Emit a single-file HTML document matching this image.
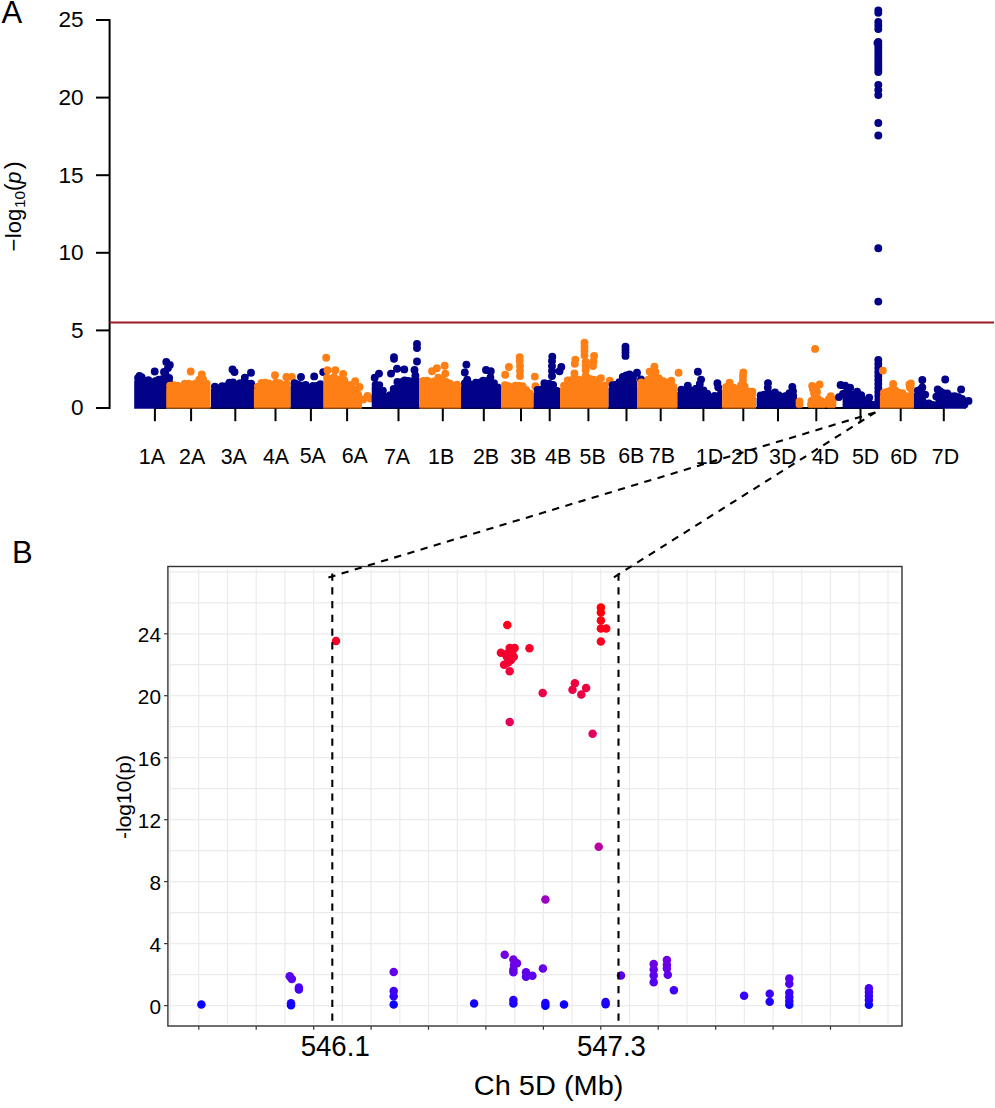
<!DOCTYPE html>
<html><head><meta charset="utf-8"><style>
html,body{margin:0;padding:0;background:#fff;}
body{width:995px;height:1108px;overflow:hidden;}
svg{display:block;font-family:"Liberation Sans",sans-serif;}
</style></head><body>
<svg width="995" height="1108" viewBox="0 0 995 1108">
<defs><clipPath id="cA"><rect x="110" y="0" width="885" height="408.7"/></clipPath></defs>
<line x1="154.9" y1="408" x2="943.8" y2="408" stroke="#000" stroke-width="1.8"/>
<g clip-path="url(#cA)"><path fill="#020288" d="M134.2 410 L134.2 380.4 L138.1 380.4 L141.6 379.5 L145 385.1 L148.4 382.5 L151.9 384.5 L155.3 383.6 L158.8 382 L162.2 381.6 L165.6 376.9 L169.1 380.2 L173 380.2 L173 410 Z"/><path fill="#020288" d="M138.1 378m-3.95 0a3.95 3.95 0 1 0 7.9 0a3.95 3.95 0 1 0 -7.9 0M141.6 377.1m-3.95 0a3.95 3.95 0 1 0 7.9 0a3.95 3.95 0 1 0 -7.9 0M145 382.8m-3.95 0a3.95 3.95 0 1 0 7.9 0a3.95 3.95 0 1 0 -7.9 0M148.4 380.1m-3.95 0a3.95 3.95 0 1 0 7.9 0a3.95 3.95 0 1 0 -7.9 0M151.9 382.1m-3.95 0a3.95 3.95 0 1 0 7.9 0a3.95 3.95 0 1 0 -7.9 0M155.3 381.3m-3.95 0a3.95 3.95 0 1 0 7.9 0a3.95 3.95 0 1 0 -7.9 0M158.8 379.7m-3.95 0a3.95 3.95 0 1 0 7.9 0a3.95 3.95 0 1 0 -7.9 0M162.2 379.3m-3.95 0a3.95 3.95 0 1 0 7.9 0a3.95 3.95 0 1 0 -7.9 0M165.6 374.5m-3.95 0a3.95 3.95 0 1 0 7.9 0a3.95 3.95 0 1 0 -7.9 0M169.1 377.9m-3.95 0a3.95 3.95 0 1 0 7.9 0a3.95 3.95 0 1 0 -7.9 0M139.5 376m-3.95 0a3.95 3.95 0 1 0 7.9 0a3.95 3.95 0 1 0 -7.9 0M154.7 371.5m-3.95 0a3.95 3.95 0 1 0 7.9 0a3.95 3.95 0 1 0 -7.9 0M166.3 362m-3.95 0a3.95 3.95 0 1 0 7.9 0a3.95 3.95 0 1 0 -7.9 0M169.8 365m-3.95 0a3.95 3.95 0 1 0 7.9 0a3.95 3.95 0 1 0 -7.9 0M168 368m-3.95 0a3.95 3.95 0 1 0 7.9 0a3.95 3.95 0 1 0 -7.9 0M164 372m-3.95 0a3.95 3.95 0 1 0 7.9 0a3.95 3.95 0 1 0 -7.9 0"/><path fill="#fe7f15" d="M166.2 410 L166.2 388.1 L170.1 388.1 L173.8 387.6 L177.4 388.2 L181.1 389.2 L184.8 386.2 L188.4 386.1 L192 386.9 L195.7 385.9 L199.3 382 L203 381.5 L206.7 386.1 L210.6 386.1 L210.6 410 Z"/><path fill="#fe7f15" d="M170.1 385.7m-3.95 0a3.95 3.95 0 1 0 7.9 0a3.95 3.95 0 1 0 -7.9 0M173.8 385.2m-3.95 0a3.95 3.95 0 1 0 7.9 0a3.95 3.95 0 1 0 -7.9 0M177.4 385.8m-3.95 0a3.95 3.95 0 1 0 7.9 0a3.95 3.95 0 1 0 -7.9 0M181.1 386.8m-3.95 0a3.95 3.95 0 1 0 7.9 0a3.95 3.95 0 1 0 -7.9 0M184.8 383.8m-3.95 0a3.95 3.95 0 1 0 7.9 0a3.95 3.95 0 1 0 -7.9 0M188.4 383.7m-3.95 0a3.95 3.95 0 1 0 7.9 0a3.95 3.95 0 1 0 -7.9 0M192 384.6m-3.95 0a3.95 3.95 0 1 0 7.9 0a3.95 3.95 0 1 0 -7.9 0M195.7 383.5m-3.95 0a3.95 3.95 0 1 0 7.9 0a3.95 3.95 0 1 0 -7.9 0M199.3 379.7m-3.95 0a3.95 3.95 0 1 0 7.9 0a3.95 3.95 0 1 0 -7.9 0M203 379.2m-3.95 0a3.95 3.95 0 1 0 7.9 0a3.95 3.95 0 1 0 -7.9 0M206.7 383.8m-3.95 0a3.95 3.95 0 1 0 7.9 0a3.95 3.95 0 1 0 -7.9 0M190.7 371.5m-3.95 0a3.95 3.95 0 1 0 7.9 0a3.95 3.95 0 1 0 -7.9 0M201.8 374.5m-3.95 0a3.95 3.95 0 1 0 7.9 0a3.95 3.95 0 1 0 -7.9 0"/><path fill="#020288" d="M211 410 L211 389 L214.9 389 L218.6 391.8 L222.2 388.6 L225.8 388.4 L229.4 384.9 L233 384.8 L236.6 387.3 L240.2 385.6 L243.8 386.2 L247.4 386 L251.1 386.1 L255 386.1 L255 410 Z"/><path fill="#020288" d="M214.9 386.6m-3.95 0a3.95 3.95 0 1 0 7.9 0a3.95 3.95 0 1 0 -7.9 0M218.6 389.4m-3.95 0a3.95 3.95 0 1 0 7.9 0a3.95 3.95 0 1 0 -7.9 0M222.2 386.2m-3.95 0a3.95 3.95 0 1 0 7.9 0a3.95 3.95 0 1 0 -7.9 0M225.8 386.1m-3.95 0a3.95 3.95 0 1 0 7.9 0a3.95 3.95 0 1 0 -7.9 0M229.4 382.6m-3.95 0a3.95 3.95 0 1 0 7.9 0a3.95 3.95 0 1 0 -7.9 0M233 382.5m-3.95 0a3.95 3.95 0 1 0 7.9 0a3.95 3.95 0 1 0 -7.9 0M236.6 384.9m-3.95 0a3.95 3.95 0 1 0 7.9 0a3.95 3.95 0 1 0 -7.9 0M240.2 383.2m-3.95 0a3.95 3.95 0 1 0 7.9 0a3.95 3.95 0 1 0 -7.9 0M243.8 383.8m-3.95 0a3.95 3.95 0 1 0 7.9 0a3.95 3.95 0 1 0 -7.9 0M247.4 383.7m-3.95 0a3.95 3.95 0 1 0 7.9 0a3.95 3.95 0 1 0 -7.9 0M251.1 383.8m-3.95 0a3.95 3.95 0 1 0 7.9 0a3.95 3.95 0 1 0 -7.9 0M232.5 369.5m-3.95 0a3.95 3.95 0 1 0 7.9 0a3.95 3.95 0 1 0 -7.9 0M234.5 372m-3.95 0a3.95 3.95 0 1 0 7.9 0a3.95 3.95 0 1 0 -7.9 0M244.8 377.6m-3.95 0a3.95 3.95 0 1 0 7.9 0a3.95 3.95 0 1 0 -7.9 0M251 372.7m-3.95 0a3.95 3.95 0 1 0 7.9 0a3.95 3.95 0 1 0 -7.9 0"/><path fill="#fe7f15" d="M253.9 410 L253.9 389 L257.9 389 L261.5 385.2 L265.1 385 L268.7 385.8 L272.3 387.3 L275.9 385.2 L279.5 385.6 L283.1 387.6 L286.8 386.3 L290.7 386.3 L290.7 410 Z"/><path fill="#fe7f15" d="M257.9 386.6m-3.95 0a3.95 3.95 0 1 0 7.9 0a3.95 3.95 0 1 0 -7.9 0M261.5 382.9m-3.95 0a3.95 3.95 0 1 0 7.9 0a3.95 3.95 0 1 0 -7.9 0M265.1 382.7m-3.95 0a3.95 3.95 0 1 0 7.9 0a3.95 3.95 0 1 0 -7.9 0M268.7 383.4m-3.95 0a3.95 3.95 0 1 0 7.9 0a3.95 3.95 0 1 0 -7.9 0M272.3 385m-3.95 0a3.95 3.95 0 1 0 7.9 0a3.95 3.95 0 1 0 -7.9 0M275.9 382.8m-3.95 0a3.95 3.95 0 1 0 7.9 0a3.95 3.95 0 1 0 -7.9 0M279.5 383.3m-3.95 0a3.95 3.95 0 1 0 7.9 0a3.95 3.95 0 1 0 -7.9 0M283.1 385.2m-3.95 0a3.95 3.95 0 1 0 7.9 0a3.95 3.95 0 1 0 -7.9 0M286.8 383.9m-3.95 0a3.95 3.95 0 1 0 7.9 0a3.95 3.95 0 1 0 -7.9 0M275 375.2m-3.95 0a3.95 3.95 0 1 0 7.9 0a3.95 3.95 0 1 0 -7.9 0M286.4 377m-3.95 0a3.95 3.95 0 1 0 7.9 0a3.95 3.95 0 1 0 -7.9 0M291.9 377m-3.95 0a3.95 3.95 0 1 0 7.9 0a3.95 3.95 0 1 0 -7.9 0"/><path fill="#020288" d="M290.7 410 L290.7 385.6 L294.6 385.6 L298.3 387 L302 388.1 L305.7 387.4 L309.4 391.3 L313.1 388.4 L316.8 388.3 L320.4 386.7 L324.4 386.7 L324.4 410 Z"/><path fill="#020288" d="M294.6 383.2m-3.95 0a3.95 3.95 0 1 0 7.9 0a3.95 3.95 0 1 0 -7.9 0M298.3 384.6m-3.95 0a3.95 3.95 0 1 0 7.9 0a3.95 3.95 0 1 0 -7.9 0M302 385.7m-3.95 0a3.95 3.95 0 1 0 7.9 0a3.95 3.95 0 1 0 -7.9 0M305.7 385m-3.95 0a3.95 3.95 0 1 0 7.9 0a3.95 3.95 0 1 0 -7.9 0M309.4 389m-3.95 0a3.95 3.95 0 1 0 7.9 0a3.95 3.95 0 1 0 -7.9 0M313.1 386m-3.95 0a3.95 3.95 0 1 0 7.9 0a3.95 3.95 0 1 0 -7.9 0M316.8 386m-3.95 0a3.95 3.95 0 1 0 7.9 0a3.95 3.95 0 1 0 -7.9 0M320.4 384.3m-3.95 0a3.95 3.95 0 1 0 7.9 0a3.95 3.95 0 1 0 -7.9 0M301 377m-3.95 0a3.95 3.95 0 1 0 7.9 0a3.95 3.95 0 1 0 -7.9 0M314.2 376.4m-3.95 0a3.95 3.95 0 1 0 7.9 0a3.95 3.95 0 1 0 -7.9 0M323.2 372.1m-3.95 0a3.95 3.95 0 1 0 7.9 0a3.95 3.95 0 1 0 -7.9 0"/><path fill="#fe7f15" d="M323.2 410 L323.2 380.2 L327.1 380.2 L330.6 383.8 L334 379.7 L337.4 381.8 L340.9 384.6 L344.3 382.8 L347.8 387.4 L351.2 387.4 L354.6 392 L358.1 396.8 L362 396.8 L362 410 Z"/><path fill="#fe7f15" d="M327.1 377.8m-3.95 0a3.95 3.95 0 1 0 7.9 0a3.95 3.95 0 1 0 -7.9 0M330.6 381.4m-3.95 0a3.95 3.95 0 1 0 7.9 0a3.95 3.95 0 1 0 -7.9 0M334 377.3m-3.95 0a3.95 3.95 0 1 0 7.9 0a3.95 3.95 0 1 0 -7.9 0M337.4 379.4m-3.95 0a3.95 3.95 0 1 0 7.9 0a3.95 3.95 0 1 0 -7.9 0M340.9 382.2m-3.95 0a3.95 3.95 0 1 0 7.9 0a3.95 3.95 0 1 0 -7.9 0M344.3 380.4m-3.95 0a3.95 3.95 0 1 0 7.9 0a3.95 3.95 0 1 0 -7.9 0M347.8 385m-3.95 0a3.95 3.95 0 1 0 7.9 0a3.95 3.95 0 1 0 -7.9 0M351.2 385m-3.95 0a3.95 3.95 0 1 0 7.9 0a3.95 3.95 0 1 0 -7.9 0M354.6 389.7m-3.95 0a3.95 3.95 0 1 0 7.9 0a3.95 3.95 0 1 0 -7.9 0M358.1 394.4m-3.95 0a3.95 3.95 0 1 0 7.9 0a3.95 3.95 0 1 0 -7.9 0M326.2 357.7m-3.95 0a3.95 3.95 0 1 0 7.9 0a3.95 3.95 0 1 0 -7.9 0M327.5 370.3m-3.95 0a3.95 3.95 0 1 0 7.9 0a3.95 3.95 0 1 0 -7.9 0M335.3 370.3m-3.95 0a3.95 3.95 0 1 0 7.9 0a3.95 3.95 0 1 0 -7.9 0M343.1 374m-3.95 0a3.95 3.95 0 1 0 7.9 0a3.95 3.95 0 1 0 -7.9 0M355.2 381.2m-3.95 0a3.95 3.95 0 1 0 7.9 0a3.95 3.95 0 1 0 -7.9 0M359.6 386.9m-3.95 0a3.95 3.95 0 1 0 7.9 0a3.95 3.95 0 1 0 -7.9 0M363.3 399.5m-3.95 0a3.95 3.95 0 1 0 7.9 0a3.95 3.95 0 1 0 -7.9 0M367.5 395.9m-3.95 0a3.95 3.95 0 1 0 7.9 0a3.95 3.95 0 1 0 -7.9 0M370.2 398.5m-3.95 0a3.95 3.95 0 1 0 7.9 0a3.95 3.95 0 1 0 -7.9 0"/><path fill="#020288" d="M371.7 410 L371.7 387.1 L375.6 387.1 L379.3 387.5 L382.9 393 L386.5 399.6 L390.1 397.7 L393.7 391.4 L397.4 384.4 L401 384.5 L404.6 382.9 L408.2 383.4 L411.8 383.4 L415.4 378.1 L419.4 378.1 L419.4 410 Z"/><path fill="#020288" d="M375.6 384.8m-3.95 0a3.95 3.95 0 1 0 7.9 0a3.95 3.95 0 1 0 -7.9 0M379.3 385.1m-3.95 0a3.95 3.95 0 1 0 7.9 0a3.95 3.95 0 1 0 -7.9 0M382.9 390.6m-3.95 0a3.95 3.95 0 1 0 7.9 0a3.95 3.95 0 1 0 -7.9 0M386.5 397.2m-3.95 0a3.95 3.95 0 1 0 7.9 0a3.95 3.95 0 1 0 -7.9 0M390.1 395.3m-3.95 0a3.95 3.95 0 1 0 7.9 0a3.95 3.95 0 1 0 -7.9 0M393.7 389m-3.95 0a3.95 3.95 0 1 0 7.9 0a3.95 3.95 0 1 0 -7.9 0M397.4 382m-3.95 0a3.95 3.95 0 1 0 7.9 0a3.95 3.95 0 1 0 -7.9 0M401 382.1m-3.95 0a3.95 3.95 0 1 0 7.9 0a3.95 3.95 0 1 0 -7.9 0M404.6 380.5m-3.95 0a3.95 3.95 0 1 0 7.9 0a3.95 3.95 0 1 0 -7.9 0M408.2 381m-3.95 0a3.95 3.95 0 1 0 7.9 0a3.95 3.95 0 1 0 -7.9 0M411.8 381.1m-3.95 0a3.95 3.95 0 1 0 7.9 0a3.95 3.95 0 1 0 -7.9 0M415.4 375.7m-3.95 0a3.95 3.95 0 1 0 7.9 0a3.95 3.95 0 1 0 -7.9 0M379 373.6m-3.95 0a3.95 3.95 0 1 0 7.9 0a3.95 3.95 0 1 0 -7.9 0M374.7 377.8m-3.95 0a3.95 3.95 0 1 0 7.9 0a3.95 3.95 0 1 0 -7.9 0M394 357.3m-3.95 0a3.95 3.95 0 1 0 7.9 0a3.95 3.95 0 1 0 -7.9 0M394 358.7m-3.95 0a3.95 3.95 0 1 0 7.9 0a3.95 3.95 0 1 0 -7.9 0M391 373.6m-3.95 0a3.95 3.95 0 1 0 7.9 0a3.95 3.95 0 1 0 -7.9 0M397 368.8m-3.95 0a3.95 3.95 0 1 0 7.9 0a3.95 3.95 0 1 0 -7.9 0M404.3 369.4m-3.95 0a3.95 3.95 0 1 0 7.9 0a3.95 3.95 0 1 0 -7.9 0M417 344m-3.95 0a3.95 3.95 0 1 0 7.9 0a3.95 3.95 0 1 0 -7.9 0M417 348m-3.95 0a3.95 3.95 0 1 0 7.9 0a3.95 3.95 0 1 0 -7.9 0M417 361.5m-3.95 0a3.95 3.95 0 1 0 7.9 0a3.95 3.95 0 1 0 -7.9 0M414.5 370m-3.95 0a3.95 3.95 0 1 0 7.9 0a3.95 3.95 0 1 0 -7.9 0"/><path fill="#fe7f15" d="M419.4 410 L419.4 383.4 L423.3 383.4 L427.1 383.1 L430.8 384.8 L434.6 383.4 L438.3 380.2 L442.1 380.8 L445.8 384.1 L449.6 385.8 L453.3 388.1 L457.1 386.9 L461 386.9 L461 410 Z"/><path fill="#fe7f15" d="M423.3 381m-3.95 0a3.95 3.95 0 1 0 7.9 0a3.95 3.95 0 1 0 -7.9 0M427.1 380.7m-3.95 0a3.95 3.95 0 1 0 7.9 0a3.95 3.95 0 1 0 -7.9 0M430.8 382.4m-3.95 0a3.95 3.95 0 1 0 7.9 0a3.95 3.95 0 1 0 -7.9 0M434.6 381.1m-3.95 0a3.95 3.95 0 1 0 7.9 0a3.95 3.95 0 1 0 -7.9 0M438.3 377.8m-3.95 0a3.95 3.95 0 1 0 7.9 0a3.95 3.95 0 1 0 -7.9 0M442.1 378.4m-3.95 0a3.95 3.95 0 1 0 7.9 0a3.95 3.95 0 1 0 -7.9 0M445.8 381.7m-3.95 0a3.95 3.95 0 1 0 7.9 0a3.95 3.95 0 1 0 -7.9 0M449.6 383.5m-3.95 0a3.95 3.95 0 1 0 7.9 0a3.95 3.95 0 1 0 -7.9 0M453.3 385.8m-3.95 0a3.95 3.95 0 1 0 7.9 0a3.95 3.95 0 1 0 -7.9 0M457.1 384.6m-3.95 0a3.95 3.95 0 1 0 7.9 0a3.95 3.95 0 1 0 -7.9 0M432 371.2m-3.95 0a3.95 3.95 0 1 0 7.9 0a3.95 3.95 0 1 0 -7.9 0M436.9 368.2m-3.95 0a3.95 3.95 0 1 0 7.9 0a3.95 3.95 0 1 0 -7.9 0M444.7 365.8m-3.95 0a3.95 3.95 0 1 0 7.9 0a3.95 3.95 0 1 0 -7.9 0M445.3 373.6m-3.95 0a3.95 3.95 0 1 0 7.9 0a3.95 3.95 0 1 0 -7.9 0"/><path fill="#020288" d="M461 410 L461 385.5 L464.9 385.5 L468.6 385.8 L472.2 389.2 L475.9 385.1 L479.5 385.1 L483.1 383.2 L486.8 383.4 L490.4 379.9 L494 385.6 L497.7 389.9 L501.6 389.9 L501.6 410 Z"/><path fill="#020288" d="M464.9 383.1m-3.95 0a3.95 3.95 0 1 0 7.9 0a3.95 3.95 0 1 0 -7.9 0M468.6 383.4m-3.95 0a3.95 3.95 0 1 0 7.9 0a3.95 3.95 0 1 0 -7.9 0M472.2 386.8m-3.95 0a3.95 3.95 0 1 0 7.9 0a3.95 3.95 0 1 0 -7.9 0M475.9 382.7m-3.95 0a3.95 3.95 0 1 0 7.9 0a3.95 3.95 0 1 0 -7.9 0M479.5 382.7m-3.95 0a3.95 3.95 0 1 0 7.9 0a3.95 3.95 0 1 0 -7.9 0M483.1 380.8m-3.95 0a3.95 3.95 0 1 0 7.9 0a3.95 3.95 0 1 0 -7.9 0M486.8 381m-3.95 0a3.95 3.95 0 1 0 7.9 0a3.95 3.95 0 1 0 -7.9 0M490.4 377.5m-3.95 0a3.95 3.95 0 1 0 7.9 0a3.95 3.95 0 1 0 -7.9 0M494 383.2m-3.95 0a3.95 3.95 0 1 0 7.9 0a3.95 3.95 0 1 0 -7.9 0M497.7 387.5m-3.95 0a3.95 3.95 0 1 0 7.9 0a3.95 3.95 0 1 0 -7.9 0M466.4 364.6m-3.95 0a3.95 3.95 0 1 0 7.9 0a3.95 3.95 0 1 0 -7.9 0M464.8 372.4m-3.95 0a3.95 3.95 0 1 0 7.9 0a3.95 3.95 0 1 0 -7.9 0M467.2 379.6m-3.95 0a3.95 3.95 0 1 0 7.9 0a3.95 3.95 0 1 0 -7.9 0M486 370m-3.95 0a3.95 3.95 0 1 0 7.9 0a3.95 3.95 0 1 0 -7.9 0M490.8 371.2m-3.95 0a3.95 3.95 0 1 0 7.9 0a3.95 3.95 0 1 0 -7.9 0"/><path fill="#fe7f15" d="M501 410 L501 387.6 L504.9 387.6 L508.5 388.5 L512 389.9 L515.5 388 L519.1 388.1 L522.6 388.4 L526.1 392.4 L529.6 395.4 L533.6 395.4 L533.6 410 Z"/><path fill="#fe7f15" d="M504.9 385.3m-3.95 0a3.95 3.95 0 1 0 7.9 0a3.95 3.95 0 1 0 -7.9 0M508.5 386.1m-3.95 0a3.95 3.95 0 1 0 7.9 0a3.95 3.95 0 1 0 -7.9 0M512 387.5m-3.95 0a3.95 3.95 0 1 0 7.9 0a3.95 3.95 0 1 0 -7.9 0M515.5 385.6m-3.95 0a3.95 3.95 0 1 0 7.9 0a3.95 3.95 0 1 0 -7.9 0M519.1 385.7m-3.95 0a3.95 3.95 0 1 0 7.9 0a3.95 3.95 0 1 0 -7.9 0M522.6 386.1m-3.95 0a3.95 3.95 0 1 0 7.9 0a3.95 3.95 0 1 0 -7.9 0M526.1 390m-3.95 0a3.95 3.95 0 1 0 7.9 0a3.95 3.95 0 1 0 -7.9 0M529.6 393.1m-3.95 0a3.95 3.95 0 1 0 7.9 0a3.95 3.95 0 1 0 -7.9 0M505.2 374.8m-3.95 0a3.95 3.95 0 1 0 7.9 0a3.95 3.95 0 1 0 -7.9 0M508.9 367m-3.95 0a3.95 3.95 0 1 0 7.9 0a3.95 3.95 0 1 0 -7.9 0M519.7 357.3m-3.95 0a3.95 3.95 0 1 0 7.9 0a3.95 3.95 0 1 0 -7.9 0M519.7 361m-3.95 0a3.95 3.95 0 1 0 7.9 0a3.95 3.95 0 1 0 -7.9 0M520 366m-3.95 0a3.95 3.95 0 1 0 7.9 0a3.95 3.95 0 1 0 -7.9 0M520 371m-3.95 0a3.95 3.95 0 1 0 7.9 0a3.95 3.95 0 1 0 -7.9 0M520 376m-3.95 0a3.95 3.95 0 1 0 7.9 0a3.95 3.95 0 1 0 -7.9 0M534.8 376.6m-3.95 0a3.95 3.95 0 1 0 7.9 0a3.95 3.95 0 1 0 -7.9 0M535.4 386.3m-3.95 0a3.95 3.95 0 1 0 7.9 0a3.95 3.95 0 1 0 -7.9 0"/><path fill="#020288" d="M533.6 410 L533.6 392.4 L537.6 392.4 L541.5 391.7 L545.4 389.4 L549.2 385.9 L553.1 387.2 L557 393.3 L561 393.3 L561 410 Z"/><path fill="#020288" d="M537.6 390m-3.95 0a3.95 3.95 0 1 0 7.9 0a3.95 3.95 0 1 0 -7.9 0M541.5 389.4m-3.95 0a3.95 3.95 0 1 0 7.9 0a3.95 3.95 0 1 0 -7.9 0M545.4 387m-3.95 0a3.95 3.95 0 1 0 7.9 0a3.95 3.95 0 1 0 -7.9 0M549.2 383.6m-3.95 0a3.95 3.95 0 1 0 7.9 0a3.95 3.95 0 1 0 -7.9 0M553.1 384.9m-3.95 0a3.95 3.95 0 1 0 7.9 0a3.95 3.95 0 1 0 -7.9 0M557 390.9m-3.95 0a3.95 3.95 0 1 0 7.9 0a3.95 3.95 0 1 0 -7.9 0M552.3 356.7m-3.95 0a3.95 3.95 0 1 0 7.9 0a3.95 3.95 0 1 0 -7.9 0M552 361m-3.95 0a3.95 3.95 0 1 0 7.9 0a3.95 3.95 0 1 0 -7.9 0M552 366m-3.95 0a3.95 3.95 0 1 0 7.9 0a3.95 3.95 0 1 0 -7.9 0M552 371m-3.95 0a3.95 3.95 0 1 0 7.9 0a3.95 3.95 0 1 0 -7.9 0M552 376m-3.95 0a3.95 3.95 0 1 0 7.9 0a3.95 3.95 0 1 0 -7.9 0M561.3 367m-3.95 0a3.95 3.95 0 1 0 7.9 0a3.95 3.95 0 1 0 -7.9 0M559.5 371.2m-3.95 0a3.95 3.95 0 1 0 7.9 0a3.95 3.95 0 1 0 -7.9 0M544.4 383.3m-3.95 0a3.95 3.95 0 1 0 7.9 0a3.95 3.95 0 1 0 -7.9 0"/><path fill="#fe7f15" d="M560 410 L560 388 L564 388 L567.7 382.8 L571.4 382.4 L575.1 381.3 L578.8 382 L582.5 383.7 L586.1 382.3 L589.9 381.4 L593.5 381.9 L597.2 382.7 L600.9 380.7 L604.6 388 L608.6 388 L608.6 410 Z"/><path fill="#fe7f15" d="M564 385.6m-3.95 0a3.95 3.95 0 1 0 7.9 0a3.95 3.95 0 1 0 -7.9 0M567.7 380.5m-3.95 0a3.95 3.95 0 1 0 7.9 0a3.95 3.95 0 1 0 -7.9 0M571.4 380m-3.95 0a3.95 3.95 0 1 0 7.9 0a3.95 3.95 0 1 0 -7.9 0M575.1 379m-3.95 0a3.95 3.95 0 1 0 7.9 0a3.95 3.95 0 1 0 -7.9 0M578.8 379.6m-3.95 0a3.95 3.95 0 1 0 7.9 0a3.95 3.95 0 1 0 -7.9 0M582.5 381.3m-3.95 0a3.95 3.95 0 1 0 7.9 0a3.95 3.95 0 1 0 -7.9 0M586.1 379.9m-3.95 0a3.95 3.95 0 1 0 7.9 0a3.95 3.95 0 1 0 -7.9 0M589.9 379m-3.95 0a3.95 3.95 0 1 0 7.9 0a3.95 3.95 0 1 0 -7.9 0M593.5 379.6m-3.95 0a3.95 3.95 0 1 0 7.9 0a3.95 3.95 0 1 0 -7.9 0M597.2 380.3m-3.95 0a3.95 3.95 0 1 0 7.9 0a3.95 3.95 0 1 0 -7.9 0M600.9 378.3m-3.95 0a3.95 3.95 0 1 0 7.9 0a3.95 3.95 0 1 0 -7.9 0M604.6 385.7m-3.95 0a3.95 3.95 0 1 0 7.9 0a3.95 3.95 0 1 0 -7.9 0M575.3 359.6m-3.95 0a3.95 3.95 0 1 0 7.9 0a3.95 3.95 0 1 0 -7.9 0M574.8 363.8m-3.95 0a3.95 3.95 0 1 0 7.9 0a3.95 3.95 0 1 0 -7.9 0M574.4 373.4m-3.95 0a3.95 3.95 0 1 0 7.9 0a3.95 3.95 0 1 0 -7.9 0M584.5 342.7m-3.95 0a3.95 3.95 0 1 0 7.9 0a3.95 3.95 0 1 0 -7.9 0M584.5 347m-3.95 0a3.95 3.95 0 1 0 7.9 0a3.95 3.95 0 1 0 -7.9 0M584.5 351m-3.95 0a3.95 3.95 0 1 0 7.9 0a3.95 3.95 0 1 0 -7.9 0M584.5 355.3m-3.95 0a3.95 3.95 0 1 0 7.9 0a3.95 3.95 0 1 0 -7.9 0M585.7 362m-3.95 0a3.95 3.95 0 1 0 7.9 0a3.95 3.95 0 1 0 -7.9 0M585.7 366m-3.95 0a3.95 3.95 0 1 0 7.9 0a3.95 3.95 0 1 0 -7.9 0M585.7 370m-3.95 0a3.95 3.95 0 1 0 7.9 0a3.95 3.95 0 1 0 -7.9 0M585.7 376m-3.95 0a3.95 3.95 0 1 0 7.9 0a3.95 3.95 0 1 0 -7.9 0M594.1 356m-3.95 0a3.95 3.95 0 1 0 7.9 0a3.95 3.95 0 1 0 -7.9 0M593.5 361.4m-3.95 0a3.95 3.95 0 1 0 7.9 0a3.95 3.95 0 1 0 -7.9 0M593 366m-3.95 0a3.95 3.95 0 1 0 7.9 0a3.95 3.95 0 1 0 -7.9 0M609.8 380.7m-3.95 0a3.95 3.95 0 1 0 7.9 0a3.95 3.95 0 1 0 -7.9 0"/><path fill="#020288" d="M608.6 410 L608.6 387.6 L612.6 387.6 L616 386.9 L619.4 384.5 L622.8 379.4 L626.2 377.8 L629.6 376.9 L633 380.4 L637 380.4 L637 410 Z"/><path fill="#020288" d="M612.6 385.2m-3.95 0a3.95 3.95 0 1 0 7.9 0a3.95 3.95 0 1 0 -7.9 0M616 384.6m-3.95 0a3.95 3.95 0 1 0 7.9 0a3.95 3.95 0 1 0 -7.9 0M619.4 382.1m-3.95 0a3.95 3.95 0 1 0 7.9 0a3.95 3.95 0 1 0 -7.9 0M622.8 377m-3.95 0a3.95 3.95 0 1 0 7.9 0a3.95 3.95 0 1 0 -7.9 0M626.2 375.5m-3.95 0a3.95 3.95 0 1 0 7.9 0a3.95 3.95 0 1 0 -7.9 0M629.6 374.5m-3.95 0a3.95 3.95 0 1 0 7.9 0a3.95 3.95 0 1 0 -7.9 0M633 378.1m-3.95 0a3.95 3.95 0 1 0 7.9 0a3.95 3.95 0 1 0 -7.9 0M625.5 346.6m-3.95 0a3.95 3.95 0 1 0 7.9 0a3.95 3.95 0 1 0 -7.9 0M625.5 349.5m-3.95 0a3.95 3.95 0 1 0 7.9 0a3.95 3.95 0 1 0 -7.9 0M625.5 352.5m-3.95 0a3.95 3.95 0 1 0 7.9 0a3.95 3.95 0 1 0 -7.9 0M625.5 355.9m-3.95 0a3.95 3.95 0 1 0 7.9 0a3.95 3.95 0 1 0 -7.9 0M637 372.8m-3.95 0a3.95 3.95 0 1 0 7.9 0a3.95 3.95 0 1 0 -7.9 0M641 379.5m-3.95 0a3.95 3.95 0 1 0 7.9 0a3.95 3.95 0 1 0 -7.9 0"/><path fill="#fe7f15" d="M637 410 L637 387.1 L641 387.1 L644.6 388.9 L648.2 382.2 L651.8 375.8 L655.4 374.4 L659 380.8 L662.6 383.2 L666.2 384.8 L669.8 385.2 L673.4 389.4 L677.4 389.4 L677.4 410 Z"/><path fill="#fe7f15" d="M641 384.7m-3.95 0a3.95 3.95 0 1 0 7.9 0a3.95 3.95 0 1 0 -7.9 0M644.6 386.5m-3.95 0a3.95 3.95 0 1 0 7.9 0a3.95 3.95 0 1 0 -7.9 0M648.2 379.8m-3.95 0a3.95 3.95 0 1 0 7.9 0a3.95 3.95 0 1 0 -7.9 0M651.8 373.4m-3.95 0a3.95 3.95 0 1 0 7.9 0a3.95 3.95 0 1 0 -7.9 0M655.4 372m-3.95 0a3.95 3.95 0 1 0 7.9 0a3.95 3.95 0 1 0 -7.9 0M659 378.4m-3.95 0a3.95 3.95 0 1 0 7.9 0a3.95 3.95 0 1 0 -7.9 0M662.6 380.9m-3.95 0a3.95 3.95 0 1 0 7.9 0a3.95 3.95 0 1 0 -7.9 0M666.2 382.4m-3.95 0a3.95 3.95 0 1 0 7.9 0a3.95 3.95 0 1 0 -7.9 0M669.8 382.8m-3.95 0a3.95 3.95 0 1 0 7.9 0a3.95 3.95 0 1 0 -7.9 0M673.4 387m-3.95 0a3.95 3.95 0 1 0 7.9 0a3.95 3.95 0 1 0 -7.9 0M654.4 366.8m-3.95 0a3.95 3.95 0 1 0 7.9 0a3.95 3.95 0 1 0 -7.9 0M649.6 371.6m-3.95 0a3.95 3.95 0 1 0 7.9 0a3.95 3.95 0 1 0 -7.9 0M678.6 372.8m-3.95 0a3.95 3.95 0 1 0 7.9 0a3.95 3.95 0 1 0 -7.9 0M641.2 382.5m-3.95 0a3.95 3.95 0 1 0 7.9 0a3.95 3.95 0 1 0 -7.9 0M671.3 380.7m-3.95 0a3.95 3.95 0 1 0 7.9 0a3.95 3.95 0 1 0 -7.9 0"/><path fill="#020288" d="M677.4 410 L677.4 392 L681.4 392 L685 395.3 L688.7 393.4 L692.4 393.1 L696.1 390.9 L699.8 386.3 L703.5 392.9 L707.2 396 L710.9 401.5 L714.6 398.4 L718.2 389.6 L722.2 389.6 L722.2 410 Z"/><path fill="#020288" d="M681.4 389.6m-3.95 0a3.95 3.95 0 1 0 7.9 0a3.95 3.95 0 1 0 -7.9 0M685 392.9m-3.95 0a3.95 3.95 0 1 0 7.9 0a3.95 3.95 0 1 0 -7.9 0M688.7 391m-3.95 0a3.95 3.95 0 1 0 7.9 0a3.95 3.95 0 1 0 -7.9 0M692.4 390.8m-3.95 0a3.95 3.95 0 1 0 7.9 0a3.95 3.95 0 1 0 -7.9 0M696.1 388.6m-3.95 0a3.95 3.95 0 1 0 7.9 0a3.95 3.95 0 1 0 -7.9 0M699.8 384m-3.95 0a3.95 3.95 0 1 0 7.9 0a3.95 3.95 0 1 0 -7.9 0M703.5 390.5m-3.95 0a3.95 3.95 0 1 0 7.9 0a3.95 3.95 0 1 0 -7.9 0M707.2 393.6m-3.95 0a3.95 3.95 0 1 0 7.9 0a3.95 3.95 0 1 0 -7.9 0M710.9 399.1m-3.95 0a3.95 3.95 0 1 0 7.9 0a3.95 3.95 0 1 0 -7.9 0M714.6 396m-3.95 0a3.95 3.95 0 1 0 7.9 0a3.95 3.95 0 1 0 -7.9 0M718.2 387.3m-3.95 0a3.95 3.95 0 1 0 7.9 0a3.95 3.95 0 1 0 -7.9 0M697.9 371.8m-3.95 0a3.95 3.95 0 1 0 7.9 0a3.95 3.95 0 1 0 -7.9 0M701.1 379.6m-3.95 0a3.95 3.95 0 1 0 7.9 0a3.95 3.95 0 1 0 -7.9 0M687.8 385.7m-3.95 0a3.95 3.95 0 1 0 7.9 0a3.95 3.95 0 1 0 -7.9 0M717.4 383.3m-3.95 0a3.95 3.95 0 1 0 7.9 0a3.95 3.95 0 1 0 -7.9 0"/><path fill="#fe7f15" d="M722.2 410 L722.2 389.3 L726.2 389.3 L729.9 387.8 L733.6 390.2 L737.2 393.9 L741 387.7 L744.6 388.7 L748.4 393.9 L752 396.9 L756 396.9 L756 410 Z"/><path fill="#fe7f15" d="M726.2 386.9m-3.95 0a3.95 3.95 0 1 0 7.9 0a3.95 3.95 0 1 0 -7.9 0M729.9 385.4m-3.95 0a3.95 3.95 0 1 0 7.9 0a3.95 3.95 0 1 0 -7.9 0M733.6 387.8m-3.95 0a3.95 3.95 0 1 0 7.9 0a3.95 3.95 0 1 0 -7.9 0M737.2 391.5m-3.95 0a3.95 3.95 0 1 0 7.9 0a3.95 3.95 0 1 0 -7.9 0M741 385.3m-3.95 0a3.95 3.95 0 1 0 7.9 0a3.95 3.95 0 1 0 -7.9 0M744.6 386.4m-3.95 0a3.95 3.95 0 1 0 7.9 0a3.95 3.95 0 1 0 -7.9 0M748.4 391.5m-3.95 0a3.95 3.95 0 1 0 7.9 0a3.95 3.95 0 1 0 -7.9 0M752 394.5m-3.95 0a3.95 3.95 0 1 0 7.9 0a3.95 3.95 0 1 0 -7.9 0M743.3 372.4m-3.95 0a3.95 3.95 0 1 0 7.9 0a3.95 3.95 0 1 0 -7.9 0M743 376m-3.95 0a3.95 3.95 0 1 0 7.9 0a3.95 3.95 0 1 0 -7.9 0M743 380m-3.95 0a3.95 3.95 0 1 0 7.9 0a3.95 3.95 0 1 0 -7.9 0M743 384m-3.95 0a3.95 3.95 0 1 0 7.9 0a3.95 3.95 0 1 0 -7.9 0M729.5 382.6m-3.95 0a3.95 3.95 0 1 0 7.9 0a3.95 3.95 0 1 0 -7.9 0M752.4 391.7m-3.95 0a3.95 3.95 0 1 0 7.9 0a3.95 3.95 0 1 0 -7.9 0"/><path fill="#020288" d="M756.6 410 L756.6 397.9 L760.6 397.9 L764.2 397.1 L767.8 389.9 L771.4 396.6 L775 394.9 L778.6 397.5 L782.2 399.4 L785.8 398.2 L789.4 395.6 L793 393.7 L797 393.7 L797 410 Z"/><path fill="#020288" d="M760.6 395.5m-3.95 0a3.95 3.95 0 1 0 7.9 0a3.95 3.95 0 1 0 -7.9 0M764.2 394.8m-3.95 0a3.95 3.95 0 1 0 7.9 0a3.95 3.95 0 1 0 -7.9 0M767.8 387.6m-3.95 0a3.95 3.95 0 1 0 7.9 0a3.95 3.95 0 1 0 -7.9 0M771.4 394.2m-3.95 0a3.95 3.95 0 1 0 7.9 0a3.95 3.95 0 1 0 -7.9 0M775 392.5m-3.95 0a3.95 3.95 0 1 0 7.9 0a3.95 3.95 0 1 0 -7.9 0M778.6 395.1m-3.95 0a3.95 3.95 0 1 0 7.9 0a3.95 3.95 0 1 0 -7.9 0M782.2 397.1m-3.95 0a3.95 3.95 0 1 0 7.9 0a3.95 3.95 0 1 0 -7.9 0M785.8 395.9m-3.95 0a3.95 3.95 0 1 0 7.9 0a3.95 3.95 0 1 0 -7.9 0M789.4 393.3m-3.95 0a3.95 3.95 0 1 0 7.9 0a3.95 3.95 0 1 0 -7.9 0M793 391.3m-3.95 0a3.95 3.95 0 1 0 7.9 0a3.95 3.95 0 1 0 -7.9 0M768 383.3m-3.95 0a3.95 3.95 0 1 0 7.9 0a3.95 3.95 0 1 0 -7.9 0M792.3 386.9m-3.95 0a3.95 3.95 0 1 0 7.9 0a3.95 3.95 0 1 0 -7.9 0"/><path fill="#fe7f15" d="M799.5 401.5m-3.95 0a3.95 3.95 0 1 0 7.9 0a3.95 3.95 0 1 0 -7.9 0M799.5 404.5m-3.95 0a3.95 3.95 0 1 0 7.9 0a3.95 3.95 0 1 0 -7.9 0M815.1 348.9m-3.95 0a3.95 3.95 0 1 0 7.9 0a3.95 3.95 0 1 0 -7.9 0M812.2 385.9m-3.95 0a3.95 3.95 0 1 0 7.9 0a3.95 3.95 0 1 0 -7.9 0M819.6 384.5m-3.95 0a3.95 3.95 0 1 0 7.9 0a3.95 3.95 0 1 0 -7.9 0M813 389m-3.95 0a3.95 3.95 0 1 0 7.9 0a3.95 3.95 0 1 0 -7.9 0M816 388m-3.95 0a3.95 3.95 0 1 0 7.9 0a3.95 3.95 0 1 0 -7.9 0M814 393m-3.95 0a3.95 3.95 0 1 0 7.9 0a3.95 3.95 0 1 0 -7.9 0M817 392m-3.95 0a3.95 3.95 0 1 0 7.9 0a3.95 3.95 0 1 0 -7.9 0M815 397m-3.95 0a3.95 3.95 0 1 0 7.9 0a3.95 3.95 0 1 0 -7.9 0M813 400m-3.95 0a3.95 3.95 0 1 0 7.9 0a3.95 3.95 0 1 0 -7.9 0M818 399m-3.95 0a3.95 3.95 0 1 0 7.9 0a3.95 3.95 0 1 0 -7.9 0M811 404.5m-3.95 0a3.95 3.95 0 1 0 7.9 0a3.95 3.95 0 1 0 -7.9 0M815 404.5m-3.95 0a3.95 3.95 0 1 0 7.9 0a3.95 3.95 0 1 0 -7.9 0M819 404.5m-3.95 0a3.95 3.95 0 1 0 7.9 0a3.95 3.95 0 1 0 -7.9 0M823 404.5m-3.95 0a3.95 3.95 0 1 0 7.9 0a3.95 3.95 0 1 0 -7.9 0M811.5 401m-3.95 0a3.95 3.95 0 1 0 7.9 0a3.95 3.95 0 1 0 -7.9 0M821 401m-3.95 0a3.95 3.95 0 1 0 7.9 0a3.95 3.95 0 1 0 -7.9 0M825 402.5m-3.95 0a3.95 3.95 0 1 0 7.9 0a3.95 3.95 0 1 0 -7.9 0M830.7 396.3m-3.95 0a3.95 3.95 0 1 0 7.9 0a3.95 3.95 0 1 0 -7.9 0M829 399m-3.95 0a3.95 3.95 0 1 0 7.9 0a3.95 3.95 0 1 0 -7.9 0M833 399.5m-3.95 0a3.95 3.95 0 1 0 7.9 0a3.95 3.95 0 1 0 -7.9 0M831.5 403m-3.95 0a3.95 3.95 0 1 0 7.9 0a3.95 3.95 0 1 0 -7.9 0M829 404.5m-3.95 0a3.95 3.95 0 1 0 7.9 0a3.95 3.95 0 1 0 -7.9 0M832.5 404.5m-3.95 0a3.95 3.95 0 1 0 7.9 0a3.95 3.95 0 1 0 -7.9 0M828 401m-3.95 0a3.95 3.95 0 1 0 7.9 0a3.95 3.95 0 1 0 -7.9 0"/><path fill="#020288" d="M842.6 410 L842.6 397 L846.6 397 L850.2 396.5 L853.8 400.3 L857.5 397.8 L861.1 401.9 L864.8 402.4 L868.4 403.5 L872 406.9 L876 406.9 L876 410 Z"/><path fill="#020288" d="M846.6 394.6m-3.95 0a3.95 3.95 0 1 0 7.9 0a3.95 3.95 0 1 0 -7.9 0M850.2 394.1m-3.95 0a3.95 3.95 0 1 0 7.9 0a3.95 3.95 0 1 0 -7.9 0M853.8 397.9m-3.95 0a3.95 3.95 0 1 0 7.9 0a3.95 3.95 0 1 0 -7.9 0M857.5 395.5m-3.95 0a3.95 3.95 0 1 0 7.9 0a3.95 3.95 0 1 0 -7.9 0M861.1 399.5m-3.95 0a3.95 3.95 0 1 0 7.9 0a3.95 3.95 0 1 0 -7.9 0M864.8 400.1m-3.95 0a3.95 3.95 0 1 0 7.9 0a3.95 3.95 0 1 0 -7.9 0M868.4 401.1m-3.95 0a3.95 3.95 0 1 0 7.9 0a3.95 3.95 0 1 0 -7.9 0M872 404.6m-3.95 0a3.95 3.95 0 1 0 7.9 0a3.95 3.95 0 1 0 -7.9 0M840.6 385m-3.95 0a3.95 3.95 0 1 0 7.9 0a3.95 3.95 0 1 0 -7.9 0M845.1 385.8m-3.95 0a3.95 3.95 0 1 0 7.9 0a3.95 3.95 0 1 0 -7.9 0M850.1 387.6m-3.95 0a3.95 3.95 0 1 0 7.9 0a3.95 3.95 0 1 0 -7.9 0M839 397.1m-3.95 0a3.95 3.95 0 1 0 7.9 0a3.95 3.95 0 1 0 -7.9 0M857.1 391.6m-3.95 0a3.95 3.95 0 1 0 7.9 0a3.95 3.95 0 1 0 -7.9 0M861.2 395.1m-3.95 0a3.95 3.95 0 1 0 7.9 0a3.95 3.95 0 1 0 -7.9 0M869.2 397.6m-3.95 0a3.95 3.95 0 1 0 7.9 0a3.95 3.95 0 1 0 -7.9 0M843 394m-3.95 0a3.95 3.95 0 1 0 7.9 0a3.95 3.95 0 1 0 -7.9 0M847 392m-3.95 0a3.95 3.95 0 1 0 7.9 0a3.95 3.95 0 1 0 -7.9 0M878.3 10.4m-3.95 0a3.95 3.95 0 1 0 7.9 0a3.95 3.95 0 1 0 -7.9 0M878.3 12.8m-3.95 0a3.95 3.95 0 1 0 7.9 0a3.95 3.95 0 1 0 -7.9 0M878.3 22m-3.95 0a3.95 3.95 0 1 0 7.9 0a3.95 3.95 0 1 0 -7.9 0M878.3 25.5m-3.95 0a3.95 3.95 0 1 0 7.9 0a3.95 3.95 0 1 0 -7.9 0M878.3 29m-3.95 0a3.95 3.95 0 1 0 7.9 0a3.95 3.95 0 1 0 -7.9 0M878.3 42m-3.95 0a3.95 3.95 0 1 0 7.9 0a3.95 3.95 0 1 0 -7.9 0M878.3 44.5m-3.95 0a3.95 3.95 0 1 0 7.9 0a3.95 3.95 0 1 0 -7.9 0M878.3 47m-3.95 0a3.95 3.95 0 1 0 7.9 0a3.95 3.95 0 1 0 -7.9 0M878.3 49.5m-3.95 0a3.95 3.95 0 1 0 7.9 0a3.95 3.95 0 1 0 -7.9 0M878.3 52m-3.95 0a3.95 3.95 0 1 0 7.9 0a3.95 3.95 0 1 0 -7.9 0M878.3 54.5m-3.95 0a3.95 3.95 0 1 0 7.9 0a3.95 3.95 0 1 0 -7.9 0M878.3 57m-3.95 0a3.95 3.95 0 1 0 7.9 0a3.95 3.95 0 1 0 -7.9 0M878.3 59.5m-3.95 0a3.95 3.95 0 1 0 7.9 0a3.95 3.95 0 1 0 -7.9 0M878.3 62m-3.95 0a3.95 3.95 0 1 0 7.9 0a3.95 3.95 0 1 0 -7.9 0M878.3 64.5m-3.95 0a3.95 3.95 0 1 0 7.9 0a3.95 3.95 0 1 0 -7.9 0M878.3 67m-3.95 0a3.95 3.95 0 1 0 7.9 0a3.95 3.95 0 1 0 -7.9 0M878.3 69.5m-3.95 0a3.95 3.95 0 1 0 7.9 0a3.95 3.95 0 1 0 -7.9 0M878.3 72m-3.95 0a3.95 3.95 0 1 0 7.9 0a3.95 3.95 0 1 0 -7.9 0M878.3 85m-3.95 0a3.95 3.95 0 1 0 7.9 0a3.95 3.95 0 1 0 -7.9 0M878.3 90m-3.95 0a3.95 3.95 0 1 0 7.9 0a3.95 3.95 0 1 0 -7.9 0M878.3 95m-3.95 0a3.95 3.95 0 1 0 7.9 0a3.95 3.95 0 1 0 -7.9 0M878.3 123m-3.95 0a3.95 3.95 0 1 0 7.9 0a3.95 3.95 0 1 0 -7.9 0M878.3 135.5m-3.95 0a3.95 3.95 0 1 0 7.9 0a3.95 3.95 0 1 0 -7.9 0M878.3 248.2m-3.95 0a3.95 3.95 0 1 0 7.9 0a3.95 3.95 0 1 0 -7.9 0M878.3 301.6m-3.95 0a3.95 3.95 0 1 0 7.9 0a3.95 3.95 0 1 0 -7.9 0M878.3 360m-3.95 0a3.95 3.95 0 1 0 7.9 0a3.95 3.95 0 1 0 -7.9 0M878.3 364m-3.95 0a3.95 3.95 0 1 0 7.9 0a3.95 3.95 0 1 0 -7.9 0M878.3 368m-3.95 0a3.95 3.95 0 1 0 7.9 0a3.95 3.95 0 1 0 -7.9 0M878.3 372m-3.95 0a3.95 3.95 0 1 0 7.9 0a3.95 3.95 0 1 0 -7.9 0M878.3 376m-3.95 0a3.95 3.95 0 1 0 7.9 0a3.95 3.95 0 1 0 -7.9 0M878.3 380m-3.95 0a3.95 3.95 0 1 0 7.9 0a3.95 3.95 0 1 0 -7.9 0M878.3 384m-3.95 0a3.95 3.95 0 1 0 7.9 0a3.95 3.95 0 1 0 -7.9 0M878.3 388m-3.95 0a3.95 3.95 0 1 0 7.9 0a3.95 3.95 0 1 0 -7.9 0M878.3 392m-3.95 0a3.95 3.95 0 1 0 7.9 0a3.95 3.95 0 1 0 -7.9 0M878.3 396m-3.95 0a3.95 3.95 0 1 0 7.9 0a3.95 3.95 0 1 0 -7.9 0M878.3 400m-3.95 0a3.95 3.95 0 1 0 7.9 0a3.95 3.95 0 1 0 -7.9 0M878.3 404m-3.95 0a3.95 3.95 0 1 0 7.9 0a3.95 3.95 0 1 0 -7.9 0M878.3 408m-3.95 0a3.95 3.95 0 1 0 7.9 0a3.95 3.95 0 1 0 -7.9 0M877.5 43m-3.95 0a3.95 3.95 0 1 0 7.9 0a3.95 3.95 0 1 0 -7.9 0"/><path fill="#fe7f15" d="M879.9 410 L879.9 395.1 L883.9 395.1 L887.6 394.2 L891.3 392.6 L895 392.6 L898.8 395.2 L902.5 395.5 L906.2 398.7 L909.9 389.8 L913.9 389.8 L913.9 410 Z"/><path fill="#fe7f15" d="M883.9 392.7m-3.95 0a3.95 3.95 0 1 0 7.9 0a3.95 3.95 0 1 0 -7.9 0M887.6 391.8m-3.95 0a3.95 3.95 0 1 0 7.9 0a3.95 3.95 0 1 0 -7.9 0M891.3 390.2m-3.95 0a3.95 3.95 0 1 0 7.9 0a3.95 3.95 0 1 0 -7.9 0M895 390.2m-3.95 0a3.95 3.95 0 1 0 7.9 0a3.95 3.95 0 1 0 -7.9 0M898.8 392.8m-3.95 0a3.95 3.95 0 1 0 7.9 0a3.95 3.95 0 1 0 -7.9 0M902.5 393.1m-3.95 0a3.95 3.95 0 1 0 7.9 0a3.95 3.95 0 1 0 -7.9 0M906.2 396.3m-3.95 0a3.95 3.95 0 1 0 7.9 0a3.95 3.95 0 1 0 -7.9 0M909.9 387.4m-3.95 0a3.95 3.95 0 1 0 7.9 0a3.95 3.95 0 1 0 -7.9 0M893.1 383.9m-3.95 0a3.95 3.95 0 1 0 7.9 0a3.95 3.95 0 1 0 -7.9 0M909.4 384.5m-3.95 0a3.95 3.95 0 1 0 7.9 0a3.95 3.95 0 1 0 -7.9 0M910.9 383.5m-3.95 0a3.95 3.95 0 1 0 7.9 0a3.95 3.95 0 1 0 -7.9 0M910.9 388.4m-3.95 0a3.95 3.95 0 1 0 7.9 0a3.95 3.95 0 1 0 -7.9 0M882.9 370.6m-3.95 0a3.95 3.95 0 1 0 7.9 0a3.95 3.95 0 1 0 -7.9 0"/><path fill="#020288" d="M913.9 410 L913.9 392.9 L917.9 392.9 L921.5 391.1 L925.2 397 L928.9 405.8 L932.6 407.4 L936.3 399 L940 393.6 L943.6 395.6 L947.3 395.9 L951 398.7 L954.7 398.6 L958.4 399.5 L962 401.3 L966 401.3 L966 410 Z"/><path fill="#020288" d="M917.9 390.6m-3.95 0a3.95 3.95 0 1 0 7.9 0a3.95 3.95 0 1 0 -7.9 0M921.5 388.7m-3.95 0a3.95 3.95 0 1 0 7.9 0a3.95 3.95 0 1 0 -7.9 0M925.2 394.6m-3.95 0a3.95 3.95 0 1 0 7.9 0a3.95 3.95 0 1 0 -7.9 0M928.9 403.4m-3.95 0a3.95 3.95 0 1 0 7.9 0a3.95 3.95 0 1 0 -7.9 0M932.6 405m-3.95 0a3.95 3.95 0 1 0 7.9 0a3.95 3.95 0 1 0 -7.9 0M936.3 396.6m-3.95 0a3.95 3.95 0 1 0 7.9 0a3.95 3.95 0 1 0 -7.9 0M940 391.2m-3.95 0a3.95 3.95 0 1 0 7.9 0a3.95 3.95 0 1 0 -7.9 0M943.6 393.2m-3.95 0a3.95 3.95 0 1 0 7.9 0a3.95 3.95 0 1 0 -7.9 0M947.3 393.5m-3.95 0a3.95 3.95 0 1 0 7.9 0a3.95 3.95 0 1 0 -7.9 0M951 396.3m-3.95 0a3.95 3.95 0 1 0 7.9 0a3.95 3.95 0 1 0 -7.9 0M954.7 396.3m-3.95 0a3.95 3.95 0 1 0 7.9 0a3.95 3.95 0 1 0 -7.9 0M958.4 397.1m-3.95 0a3.95 3.95 0 1 0 7.9 0a3.95 3.95 0 1 0 -7.9 0M962 398.9m-3.95 0a3.95 3.95 0 1 0 7.9 0a3.95 3.95 0 1 0 -7.9 0M922.3 380m-3.95 0a3.95 3.95 0 1 0 7.9 0a3.95 3.95 0 1 0 -7.9 0M922.3 387.5m-3.95 0a3.95 3.95 0 1 0 7.9 0a3.95 3.95 0 1 0 -7.9 0M945.2 379.5m-3.95 0a3.95 3.95 0 1 0 7.9 0a3.95 3.95 0 1 0 -7.9 0M937.7 389.4m-3.95 0a3.95 3.95 0 1 0 7.9 0a3.95 3.95 0 1 0 -7.9 0M961.1 389.4m-3.95 0a3.95 3.95 0 1 0 7.9 0a3.95 3.95 0 1 0 -7.9 0M968.5 400.9m-3.95 0a3.95 3.95 0 1 0 7.9 0a3.95 3.95 0 1 0 -7.9 0M964.5 404.5m-3.95 0a3.95 3.95 0 1 0 7.9 0a3.95 3.95 0 1 0 -7.9 0M928.8 404.5m-3.95 0a3.95 3.95 0 1 0 7.9 0a3.95 3.95 0 1 0 -7.9 0"/></g>
<line x1="154.9" y1="408.2" x2="943.8" y2="408.2" stroke="#000" stroke-opacity="0.35" stroke-width="1.2"/>
<line x1="109.6" y1="19.2" x2="109.6" y2="408.9" stroke="#000" stroke-width="2"/>
<line x1="96" y1="408" x2="110" y2="408" stroke="#000" stroke-width="2"/>
<text x="83.7" y="415.3" font-size="22.6" text-anchor="end">0</text>
<line x1="96" y1="330.4" x2="110" y2="330.4" stroke="#000" stroke-width="2"/>
<text x="83.7" y="337.7" font-size="22.6" text-anchor="end">5</text>
<line x1="96" y1="252.8" x2="110" y2="252.8" stroke="#000" stroke-width="2"/>
<text x="83.7" y="260.1" font-size="22.6" text-anchor="end">10</text>
<line x1="96" y1="175.2" x2="110" y2="175.2" stroke="#000" stroke-width="2"/>
<text x="83.7" y="182.5" font-size="22.6" text-anchor="end">15</text>
<line x1="96" y1="97.6" x2="110" y2="97.6" stroke="#000" stroke-width="2"/>
<text x="83.7" y="104.9" font-size="22.6" text-anchor="end">20</text>
<line x1="96" y1="20" x2="110" y2="20" stroke="#000" stroke-width="2"/>
<text x="83.7" y="27.3" font-size="22.6" text-anchor="end">25</text>
<line x1="154.9" y1="408.5" x2="154.9" y2="421.2" stroke="#000" stroke-width="2"/>
<line x1="191.1" y1="408.5" x2="191.1" y2="421.2" stroke="#000" stroke-width="2"/>
<line x1="235.3" y1="408.5" x2="235.3" y2="421.2" stroke="#000" stroke-width="2"/>
<line x1="275.5" y1="408.5" x2="275.5" y2="421.2" stroke="#000" stroke-width="2"/>
<line x1="310.9" y1="408.5" x2="310.9" y2="421.2" stroke="#000" stroke-width="2"/>
<line x1="347.1" y1="408.5" x2="347.1" y2="421.2" stroke="#000" stroke-width="2"/>
<line x1="398.5" y1="408.5" x2="398.5" y2="421.2" stroke="#000" stroke-width="2"/>
<line x1="442.8" y1="408.5" x2="442.8" y2="421.2" stroke="#000" stroke-width="2"/>
<line x1="483.8" y1="408.5" x2="483.8" y2="421.2" stroke="#000" stroke-width="2"/>
<line x1="521" y1="408.5" x2="521" y2="421.2" stroke="#000" stroke-width="2"/>
<line x1="549.7" y1="408.5" x2="549.7" y2="421.2" stroke="#000" stroke-width="2"/>
<line x1="588.4" y1="408.5" x2="588.4" y2="421.2" stroke="#000" stroke-width="2"/>
<line x1="626.5" y1="408.5" x2="626.5" y2="421.2" stroke="#000" stroke-width="2"/>
<line x1="660.7" y1="408.5" x2="660.7" y2="421.2" stroke="#000" stroke-width="2"/>
<line x1="703.4" y1="408.5" x2="703.4" y2="421.2" stroke="#000" stroke-width="2"/>
<line x1="743.3" y1="408.5" x2="743.3" y2="421.2" stroke="#000" stroke-width="2"/>
<line x1="778" y1="408.5" x2="778" y2="421.2" stroke="#000" stroke-width="2"/>
<line x1="816.3" y1="408.5" x2="816.3" y2="421.2" stroke="#000" stroke-width="2"/>
<line x1="860.5" y1="408.5" x2="860.5" y2="421.2" stroke="#000" stroke-width="2"/>
<line x1="900.7" y1="408.5" x2="900.7" y2="421.2" stroke="#000" stroke-width="2"/>
<line x1="943.8" y1="408.5" x2="943.8" y2="421.2" stroke="#000" stroke-width="2"/>
<line x1="109.6" y1="322.6" x2="994" y2="322.6" stroke="#9c1c22" stroke-width="2"/>
<text x="138.79999999999998" y="464.0" font-size="21.4" class="cal">1A</text>
<text x="179.0" y="464.0" font-size="21.4" class="cal">2A</text>
<text x="220.7" y="464.0" font-size="21.4" class="cal">3A</text>
<text x="262.9" y="464.0" font-size="21.4" class="cal">4A</text>
<text x="299.7" y="462.8" font-size="21.4" class="cal">5A</text>
<text x="341.7" y="463.2" font-size="21.4" class="cal">6A</text>
<text x="383.9" y="464.0" font-size="21.4" class="cal">7A</text>
<text x="428.09999999999997" y="464.0" font-size="21.4" class="cal">1B</text>
<text x="472.9" y="464.0" font-size="21.4" class="cal">2B</text>
<text x="510.2" y="463.6" font-size="21.4" class="cal">3B</text>
<text x="545.0" y="463.6" font-size="21.4" class="cal">4B</text>
<text x="579.6" y="463.6" font-size="21.4" class="cal">5B</text>
<text x="618.2" y="463.2" font-size="21.4" class="cal">6B</text>
<text x="648.9000000000001" y="462.8" font-size="21.4" class="cal">7B</text>
<text x="695.8000000000001" y="464.0" font-size="21.4" class="cal">1D</text>
<text x="731.1" y="464.0" font-size="21.4" class="cal">2D</text>
<text x="769.0" y="464.0" font-size="21.4" class="cal">3D</text>
<text x="811.9000000000001" y="464.0" font-size="21.4" class="cal">4D</text>
<text x="851.9000000000001" y="464.0" font-size="21.4" class="cal">5D</text>
<text x="890.2" y="464.0" font-size="21.4" class="cal">6D</text>
<text x="931.8000000000001" y="464.0" font-size="21.4" class="cal">7D</text>
<text transform="translate(20.8 251.6) rotate(-90)" font-size="22">−<tspan dx="0.6">log</tspan><tspan font-size="15.5" dy="4.2" dx="0.7">10</tspan><tspan dy="-4.2" dx="-0.4" font-size="24">(</tspan><tspan font-style="italic" dx="-0.6">p</tspan><tspan dx="2.4" font-size="24">)</tspan></text>
<text x="1.5" y="23.2" font-size="31" class="cal">A</text>
<text x="12" y="562.9" font-size="31" class="cal">B</text>
<path d="M198.8 569.2V1023.5M256.2 569.2V1023.5M313.7 569.2V1023.5M371.1 569.2V1023.5M428.5 569.2V1023.5M485.9 569.2V1023.5M543.4 569.2V1023.5M600.8 569.2V1023.5M658.2 569.2V1023.5M715.7 569.2V1023.5M773.1 569.2V1023.5M830.5 569.2V1023.5M227.5 569.2V1023.5M284.9 569.2V1023.5M342.4 569.2V1023.5M399.8 569.2V1023.5M457.2 569.2V1023.5M514.7 569.2V1023.5M572.1 569.2V1023.5M629.5 569.2V1023.5M687 569.2V1023.5M744.4 569.2V1023.5M801.8 569.2V1023.5M859.2 569.2V1023.5M888 569.2V1023.5M170.1 569.2V1023.5M170.20000000000002 1005.6H899.6M170.20000000000002 974.6H899.6M170.20000000000002 943.6H899.6M170.20000000000002 912.6H899.6M170.20000000000002 881.6H899.6M170.20000000000002 850.6H899.6M170.20000000000002 819.7H899.6M170.20000000000002 788.7H899.6M170.20000000000002 757.7H899.6M170.20000000000002 726.7H899.6M170.20000000000002 695.7H899.6M170.20000000000002 664.7H899.6M170.20000000000002 633.8H899.6M170.20000000000002 602.8H899.6M170.20000000000002 571.8H899.6" stroke="#ebebeb" stroke-width="1.2" fill="none"/>
<circle cx="545.4" cy="1005.7" r="4.25" fill="#0000ff"/>
<circle cx="291" cy="1005.3" r="4.25" fill="#0200ff"/>
<circle cx="789.3" cy="1004.8" r="4.25" fill="#0800ff"/>
<circle cx="868.9" cy="1004.8" r="4.25" fill="#0800ff"/>
<circle cx="201.4" cy="1004.5" r="4.25" fill="#0c00fe"/>
<circle cx="393.7" cy="1004.5" r="4.25" fill="#0c00fe"/>
<circle cx="564" cy="1004.4" r="4.25" fill="#0d00fe"/>
<circle cx="605.6" cy="1004.2" r="4.25" fill="#0f00fe"/>
<circle cx="474.1" cy="1003.5" r="4.25" fill="#1500fe"/>
<circle cx="513.4" cy="1003.5" r="4.25" fill="#1500fe"/>
<circle cx="291" cy="1003.2" r="4.25" fill="#1700fe"/>
<circle cx="545.4" cy="1003" r="4.25" fill="#1800fd"/>
<circle cx="605.6" cy="1002" r="4.25" fill="#1e00fd"/>
<circle cx="769.7" cy="1001.8" r="4.25" fill="#1f00fd"/>
<circle cx="789.3" cy="1001" r="4.25" fill="#2200fc"/>
<circle cx="868.9" cy="1000" r="4.25" fill="#2700fc"/>
<circle cx="513.4" cy="999.9" r="4.25" fill="#2700fc"/>
<circle cx="789.3" cy="997" r="4.25" fill="#3100fa"/>
<circle cx="393.7" cy="996.2" r="4.25" fill="#3300f9"/>
<circle cx="868.9" cy="996" r="4.25" fill="#3400f9"/>
<circle cx="744.1" cy="995.8" r="4.25" fill="#3400f9"/>
<circle cx="769.7" cy="993.7" r="4.25" fill="#3a00f8"/>
<circle cx="789.3" cy="992.8" r="4.25" fill="#3c00f7"/>
<circle cx="868.9" cy="992" r="4.25" fill="#3e00f7"/>
<circle cx="393.7" cy="990.9" r="4.25" fill="#4100f6"/>
<circle cx="673.9" cy="990.3" r="4.25" fill="#4200f6"/>
<circle cx="298.9" cy="989.6" r="4.25" fill="#4300f5"/>
<circle cx="868.9" cy="988.2" r="4.25" fill="#4600f4"/>
<circle cx="298.9" cy="987.5" r="4.25" fill="#4800f4"/>
<circle cx="789.3" cy="983.7" r="4.25" fill="#4f00f2"/>
<circle cx="653.7" cy="982.2" r="4.25" fill="#5100f1"/>
<circle cx="291.8" cy="978.9" r="4.25" fill="#5600ef"/>
<circle cx="789.3" cy="978.6" r="4.25" fill="#5700ee"/>
<circle cx="526" cy="976.7" r="4.25" fill="#5a00ed"/>
<circle cx="289.7" cy="976.3" r="4.25" fill="#5a00ed"/>
<circle cx="532.4" cy="975.8" r="4.25" fill="#5b00ed"/>
<circle cx="653.7" cy="975.6" r="4.25" fill="#5b00ed"/>
<circle cx="621" cy="975.5" r="4.25" fill="#5b00ec"/>
<circle cx="667.8" cy="974.7" r="4.25" fill="#5d00ec"/>
<circle cx="513.4" cy="972.2" r="4.25" fill="#6000ea"/>
<circle cx="526" cy="972.2" r="4.25" fill="#6000ea"/>
<circle cx="393.7" cy="971.9" r="4.25" fill="#6000ea"/>
<circle cx="513.4" cy="969.5" r="4.25" fill="#6300e9"/>
<circle cx="653.7" cy="969.5" r="4.25" fill="#6300e9"/>
<circle cx="542.9" cy="968.6" r="4.25" fill="#6500e8"/>
<circle cx="666.9" cy="968.6" r="4.25" fill="#6500e8"/>
<circle cx="514" cy="965" r="4.25" fill="#6900e6"/>
<circle cx="666.9" cy="964.7" r="4.25" fill="#6900e6"/>
<circle cx="653.7" cy="964.1" r="4.25" fill="#6a00e6"/>
<circle cx="517" cy="963.2" r="4.25" fill="#6b00e5"/>
<circle cx="666.9" cy="959.9" r="4.25" fill="#6f00e3"/>
<circle cx="513.4" cy="959.5" r="4.25" fill="#6f00e3"/>
<circle cx="504.7" cy="954.7" r="4.25" fill="#7400e0"/>
<circle cx="545.4" cy="899.5" r="4.25" fill="#9e00bf"/>
<circle cx="598.7" cy="846.7" r="4.25" fill="#ba00a0"/>
<circle cx="592.6" cy="733.7" r="4.25" fill="#e1005f"/>
<circle cx="509.7" cy="721.9" r="4.25" fill="#e40058"/>
<circle cx="581.3" cy="694.5" r="4.25" fill="#eb0048"/>
<circle cx="542.7" cy="692.9" r="4.25" fill="#ec0047"/>
<circle cx="572.5" cy="689.7" r="4.25" fill="#ec0045"/>
<circle cx="586.1" cy="688.1" r="4.25" fill="#ed0044"/>
<circle cx="574.9" cy="683.3" r="4.25" fill="#ee0041"/>
<circle cx="509.7" cy="671.2" r="4.25" fill="#f1003a"/>
<circle cx="504.1" cy="664.8" r="4.25" fill="#f20036"/>
<circle cx="508.1" cy="662.4" r="4.25" fill="#f30034"/>
<circle cx="511" cy="660" r="4.25" fill="#f40032"/>
<circle cx="509.7" cy="659.1" r="4.25" fill="#f40032"/>
<circle cx="507" cy="657" r="4.25" fill="#f40030"/>
<circle cx="513.8" cy="656.7" r="4.25" fill="#f40030"/>
<circle cx="505.7" cy="654.3" r="4.25" fill="#f5002f"/>
<circle cx="500.9" cy="652.7" r="4.25" fill="#f5002e"/>
<circle cx="512.2" cy="651.9" r="4.25" fill="#f5002d"/>
<circle cx="529.5" cy="648.2" r="4.25" fill="#f6002a"/>
<circle cx="509.7" cy="647.9" r="4.25" fill="#f6002a"/>
<circle cx="514.6" cy="647.9" r="4.25" fill="#f6002a"/>
<circle cx="600.9" cy="641.5" r="4.25" fill="#f80025"/>
<circle cx="336" cy="641" r="4.25" fill="#f80025"/>
<circle cx="600.9" cy="628.6" r="4.25" fill="#fb001b"/>
<circle cx="606.2" cy="628.6" r="4.25" fill="#fb001b"/>
<circle cx="507.3" cy="625.1" r="4.25" fill="#fb0017"/>
<circle cx="600.9" cy="620.6" r="4.25" fill="#fc0013"/>
<circle cx="600.9" cy="612.5" r="4.25" fill="#fe0007"/>
<circle cx="600.9" cy="607.4" r="4.25" fill="#ff0000"/>
<rect x="167.9" y="566.5" width="734.1" height="459.5" fill="none" stroke="#333" stroke-width="1.4"/>
<line x1="198.8" y1="1026" x2="198.8" y2="1029.8" stroke="#333" stroke-width="1.2"/>
<line x1="256.2" y1="1026" x2="256.2" y2="1029.8" stroke="#333" stroke-width="1.2"/>
<line x1="313.7" y1="1026" x2="313.7" y2="1029.8" stroke="#333" stroke-width="1.2"/>
<line x1="371.1" y1="1026" x2="371.1" y2="1029.8" stroke="#333" stroke-width="1.2"/>
<line x1="428.5" y1="1026" x2="428.5" y2="1029.8" stroke="#333" stroke-width="1.2"/>
<line x1="485.9" y1="1026" x2="485.9" y2="1029.8" stroke="#333" stroke-width="1.2"/>
<line x1="543.4" y1="1026" x2="543.4" y2="1029.8" stroke="#333" stroke-width="1.2"/>
<line x1="600.8" y1="1026" x2="600.8" y2="1029.8" stroke="#333" stroke-width="1.2"/>
<line x1="658.2" y1="1026" x2="658.2" y2="1029.8" stroke="#333" stroke-width="1.2"/>
<line x1="715.7" y1="1026" x2="715.7" y2="1029.8" stroke="#333" stroke-width="1.2"/>
<line x1="773.1" y1="1026" x2="773.1" y2="1029.8" stroke="#333" stroke-width="1.2"/>
<line x1="830.5" y1="1026" x2="830.5" y2="1029.8" stroke="#333" stroke-width="1.2"/>
<line x1="164.1" y1="1005.6" x2="167.9" y2="1005.6" stroke="#333" stroke-width="1.2"/>
<text x="161" y="1013.9" font-size="20.8" text-anchor="end">0</text>
<line x1="164.1" y1="943.6" x2="167.9" y2="943.6" stroke="#333" stroke-width="1.2"/>
<text x="161" y="951.9" font-size="20.8" text-anchor="end">4</text>
<line x1="164.1" y1="881.6" x2="167.9" y2="881.6" stroke="#333" stroke-width="1.2"/>
<text x="161" y="889.9" font-size="20.8" text-anchor="end">8</text>
<line x1="164.1" y1="819.7" x2="167.9" y2="819.7" stroke="#333" stroke-width="1.2"/>
<text x="161" y="828" font-size="20.8" text-anchor="end">12</text>
<line x1="164.1" y1="757.7" x2="167.9" y2="757.7" stroke="#333" stroke-width="1.2"/>
<text x="161" y="766" font-size="20.8" text-anchor="end">16</text>
<line x1="164.1" y1="695.7" x2="167.9" y2="695.7" stroke="#333" stroke-width="1.2"/>
<text x="161" y="704" font-size="20.8" text-anchor="end">20</text>
<line x1="164.1" y1="633.8" x2="167.9" y2="633.8" stroke="#333" stroke-width="1.2"/>
<text x="161" y="642.1" font-size="20.8" text-anchor="end">24</text>
<text transform="translate(131 797) rotate(-90)" font-size="21" text-anchor="middle">-log10(p)</text>
<text transform="translate(335.2 1056.3) scale(0.92 1)" font-size="30" text-anchor="middle">546.1</text>
<text transform="translate(611.4 1056.3) scale(0.92 1)" font-size="30" text-anchor="middle">547.3</text>
<text transform="translate(548.6 1094.6) scale(1.035 1)" font-size="28" text-anchor="middle">Ch 5D (Mb)</text>
<g stroke="#000" stroke-width="2.1" fill="none" stroke-dasharray="7.3 6.45">
<path d="M328.4 577.5 L875.5 412.3"/>
<path d="M613.9 577.3 L875.5 412.3"/>
<path d="M332.3 573.4 V1021.6"/>
<path d="M618.5 573.4 V1021.6"/>
</g>
</svg>
</body></html>
